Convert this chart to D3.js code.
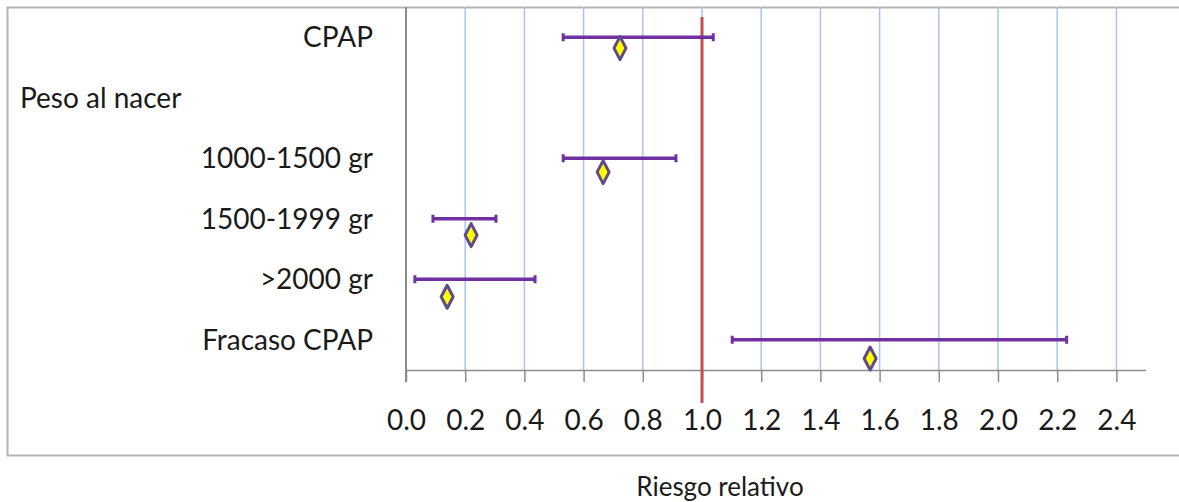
<!DOCTYPE html>
<html>
<head>
<meta charset="utf-8">
<script src="https://cdn.jsdelivr.net/npm/d3@7"></script>
<style>
  html, body { margin: 0; padding: 0; background: #fff; }
  svg { display: block; }
  text { font-family: Lato, "Open Sans", sans-serif; fill: #1a1a1a; }
</style>
</head>
<body>
<svg id="chart" width="1179" height="502"></svg>
<script>
// ---- data ----
const rowLabels = ["CPAP", "Peso al nacer", "1000-1500 gr", "1500-1999 gr", ">2000 gr", "Fracaso CPAP"];
const categories = ["CPAP", "1000-1500 gr", "1500-1999 gr", ">2000 gr", "Fracaso CPAP"];
const categoryRow = [0, 2, 3, 4, 5];
const riskRatio = [0.723, 0.666, 0.220, 0.139, 1.568];
const ciLow = [0.531, 0.531, 0.091, 0.030, 1.102];
const ciHigh = [1.038, 0.912, 0.304, 0.436, 2.232];
const pointRow = [0.18, 2.23, 3.27, 4.29, 5.31];
const xTicks = [0, 0.2, 0.4, 0.6, 0.8, 1.0, 1.2, 1.4, 1.6, 1.8, 2.0, 2.2, 2.4];
const referenceValue = 1.0;
const xTitle = "Riesgo relativo";

// ---- layout ----
const svg = d3.select("#chart");
const plotLeft = 406, plotRight = 1146, plotTop = 7, plotBottom = 370;
const x = d3.scaleLinear().domain([0, 2.5]).range([plotLeft, plotRight]);
const y = d3.scaleLinear().domain([-0.5, 5.5]).range([plotTop, plotBottom]);

// outer frame (extends beyond right edge)
svg.append("path")
  .attr("d", `M1190,7.5 H7.5 V455.5 H1190`)
  .attr("fill", "none").attr("stroke", "#b3b3b3").attr("stroke-width", 2);

// vertical gridlines
svg.append("g").selectAll("line").data(xTicks.slice(1)).join("line")
  .attr("x1", d => x(d)).attr("x2", d => x(d))
  .attr("y1", plotTop).attr("y2", plotBottom)
  .attr("stroke", "#a9c5eb").attr("stroke-width", 1.5);

// x axis
const xAxis = d3.axisBottom(x).tickValues(xTicks).tickSizeInner(12).tickSizeOuter(0).tickPadding(28)
  .tickFormat(d3.format(".1f"));
const gx = svg.append("g").attr("transform", `translate(0,${plotBottom})`).call(xAxis);
gx.select(".domain").attr("stroke", "#8c8c8c").attr("stroke-width", 1.5)
  .attr("d", `M${plotLeft},0.5H${plotRight}`);
gx.selectAll(".tick line").attr("stroke", "#8c8c8c").attr("stroke-width", 1.5);
gx.selectAll(".tick text").attr("font-size", 28).attr("fill", "#1a1a1a")
  .attr("font-family", "Lato, sans-serif");

// left axis line
svg.append("line").attr("x1", plotLeft).attr("x2", plotLeft)
  .attr("y1", plotTop).attr("y2", plotBottom + 12)
  .attr("stroke", "#8c8c8c").attr("stroke-width", 2);

// row labels
svg.append("g").selectAll("text").data(rowLabels).join("text")
  .attr("x", (d, i) => i === 1 ? 20 : 373)
  .attr("y", (d, i) => y(i) + 10)
  .attr("text-anchor", (d, i) => i === 1 ? "start" : "end")
  .attr("font-size", 28)
  .text(d => d);

// reference line
svg.append("line").attr("x1", x(referenceValue)).attr("x2", x(referenceValue))
  .attr("y1", 17).attr("y2", 403)
  .attr("stroke", "#c0504d").attr("stroke-width", 3);

// confidence intervals
const ci = svg.append("g").selectAll("g").data(categories).join("g");
ci.append("line")
  .attr("x1", (d, i) => x(ciLow[i])).attr("x2", (d, i) => x(ciHigh[i]))
  .attr("y1", (d, i) => y(categoryRow[i])).attr("y2", (d, i) => y(categoryRow[i]))
  .attr("stroke", "#7030a0").attr("stroke-width", 3.5);
ci.append("line")
  .attr("x1", (d, i) => x(ciLow[i])).attr("x2", (d, i) => x(ciLow[i]))
  .attr("y1", (d, i) => y(categoryRow[i]) - 4).attr("y2", (d, i) => y(categoryRow[i]) + 4)
  .attr("stroke", "#7030a0").attr("stroke-width", 3);
ci.append("line")
  .attr("x1", (d, i) => x(ciHigh[i])).attr("x2", (d, i) => x(ciHigh[i]))
  .attr("y1", (d, i) => y(categoryRow[i]) - 4).attr("y2", (d, i) => y(categoryRow[i]) + 4)
  .attr("stroke", "#7030a0").attr("stroke-width", 3);

// point estimates (diamonds)
svg.append("g").selectAll("path").data(categories).join("path")
  .attr("d", (d, i) => {
    const cx = x(riskRatio[i]), cy = y(pointRow[i]);
    return `M${cx},${cy - 11.5}L${cx + 6},${cy}L${cx},${cy + 11.5}L${cx - 6},${cy}Z`;
  })
  .attr("fill", "#ffff00").attr("stroke", "#5f4a8b").attr("stroke-width", 3)
  .attr("stroke-linejoin", "round");

// x axis title
svg.append("text").attr("x", 720).attr("y", 496).attr("text-anchor", "middle")
  .attr("font-size", 26).text(xTitle);
</script>
</body>
</html>
